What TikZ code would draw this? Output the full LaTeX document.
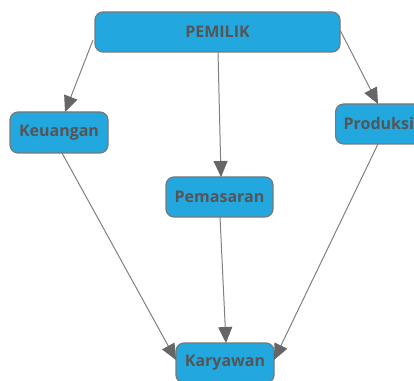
\documentclass[tikz,border=0pt]{standalone}
\usepackage{fontspec}
\setmainfont{Open Sans}
\usetikzlibrary{arrows.meta}
\definecolor{boxfill}{HTML}{22A7DF}
\definecolor{boxline}{HTML}{787878}
\definecolor{txt}{HTML}{555555}
\definecolor{edge}{HTML}{808080}
\definecolor{tip}{HTML}{666666}
\tikzset{
  box/.style={draw=boxline, line width=1.2pt, fill=boxfill, rounded corners=8pt,
    text=txt, font=\fontsize{16}{18}\selectfont\bfseries, inner sep=0pt, minimum height=40pt},
  conn/.style={draw=edge, line width=1pt, -{Triangle[length=16pt,width=14pt,fill=tip,color=tip]}}
}
\begin{document}
\begin{tikzpicture}[x=1pt,y=1pt]
\useasboundingbox (0,0) rectangle (414,380);
\clip (0,0) rectangle (414,380);
\node[box, minimum width=245pt] (pem) at (217.5,348) {PEMILIK};
\node[box, minimum width=98pt, minimum height=41pt] (keu) at (59,247.5) {Keuangan};
\node[box, anchor=west, text width=84pt, inner xsep=8pt, align=left] (pro) at (335,256) {Produksi};
\node[box, minimum width=107pt] (pms) at (219.5,183) {Pemasaran};
\node[box, minimum width=98pt, minimum height=40pt] (kar) at (225,17) {Karyawan};
\coordinate (a1) at (93,340);
\coordinate (b1) at (65,268);
\draw[conn] (a1) -- (b1);
\draw[conn] (218,328) -- (221,203);
\draw[conn] (340,350) -- (378,276);
\draw[conn] (62,227) -- (176,20);
\draw[conn] (220,163) -- (226,37);
\draw[conn] (378,236) -- (274,20);
\end{tikzpicture}
\end{document}
